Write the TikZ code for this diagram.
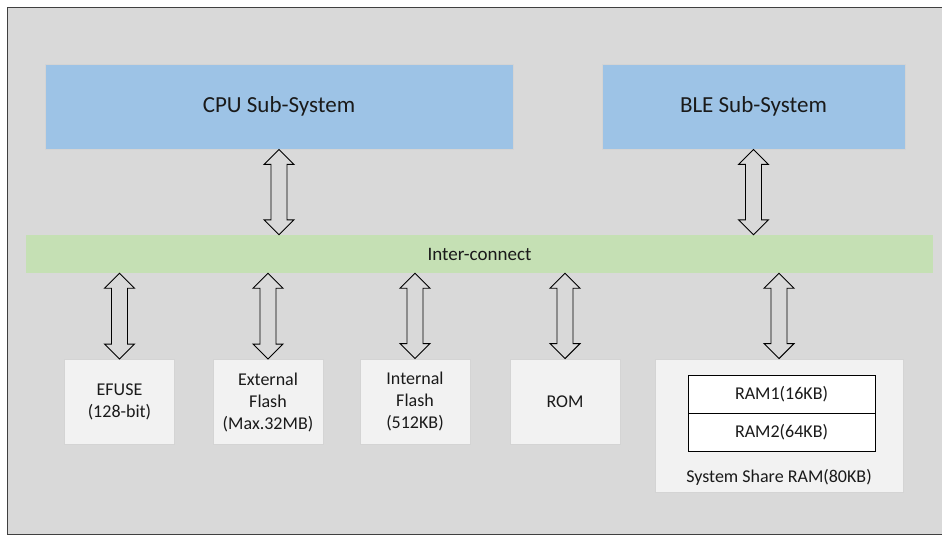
\documentclass[tikz,border=0pt]{standalone}
\usepackage{fontspec}
\setmainfont{Carlito}
\usetikzlibrary{calc}

\definecolor{panel}{HTML}{D9D9D9}
\definecolor{frameline}{HTML}{404040}
\definecolor{subsys}{HTML}{9DC3E6}
\definecolor{busgreen}{HTML}{C5E0B4}
\definecolor{memfill}{HTML}{F2F2F2}
\definecolor{memline}{HTML}{D4D4D4}
\definecolor{memshadow}{HTML}{C3CBD8}
\definecolor{ink}{HTML}{1A1A1A}

\tikzset{
  subsysbox/.style={draw=memline, line width=0.8pt, fill=subsys, minimum width=#1,
    minimum height=85, inner sep=0pt, text=ink, font=\fontsize{23}{27}\selectfont},
  busbar/.style={fill=busgreen, minimum width=907, minimum height=38, inner sep=0pt,
    text=ink, font=\fontsize{19}{23}\selectfont},
  membox/.style={draw=memline, line width=0.8pt, fill=memfill, minimum width=110,
    minimum height=85, inner sep=0pt, align=center, text=ink,
    font=\fontsize{18}{22}\selectfont,
    append after command={\pgfextra{\begin{pgfonlayer}{shadowlayer}
      \fill[memshadow] ($(\tikzlastnode.south west)+(1.5,0)$) rectangle
        ($(\tikzlastnode.south east)+(2,2.5)$);
      \end{pgfonlayer}}}},
  rambox/.style={draw=black, line width=0.8pt, fill=white, minimum width=187,
    minimum height=38, inner sep=0pt, text=ink, font=\fontsize{18}{22}\selectfont},
  busarrow/.style={draw=black, line width=0.9pt, fill=panel, line join=miter},
}

\pgfdeclarelayer{shadowlayer}
\pgfsetlayers{shadowlayer,main}

% hollow double-headed arrow between two anchors (upper end first)
\newcommand{\dblarrow}[2]{%
  \draw[busarrow] let \p1=#1, \p2=#2 in
    (\x1,\y1) -- (\x1+15pt,\y1-15pt) -- (\x1+8pt,\y1-15pt) -- (\x1+8pt,\y2+15pt)
    -- (\x1+15pt,\y2+15pt) -- (\x1,\y2) -- (\x1-15pt,\y2+15pt) -- (\x1-8pt,\y2+15pt)
    -- (\x1-8pt,\y1-15pt) -- (\x1-15pt,\y1-15pt) -- cycle;}

\begin{document}
\begin{tikzpicture}[x=1pt,y=-1pt]
  \useasboundingbox (0,0) rectangle (942,536);
  \clip (0,0) rectangle (942,536);
  \fill[white] (0,0) rectangle (942,536);

  % outer panel
  \draw[fill=panel, draw=frameline, line width=1.5pt] (7.5,7.5) rectangle (950,534.5);

  % subsystems
  \node[subsysbox=468] (cpu) at (279,106.5) {CPU Sub-System};
  \node[subsysbox=303] (ble) at (753.5,106.5) {BLE Sub-System};

  % interconnect
  \node[busbar] (bus) at (479.5,254) {Inter-connect};

  % memories
  \node[membox] (efuse) at (119.5,402) {EFUSE\\(128-bit)};
  \node[membox] (ext)   at (268,402)   {External\\Flash\\(Max.32MB)};
  \node[membox] (int)   at (415,401.5) {Internal\\Flash\\(512KB)};
  \node[membox] (rom)   at (565,401.5) {ROM};
  \node[membox, minimum width=248, minimum height=133] (ram) at (779,425.5) {};
  \node[rambox] (ram1) at (781.5,394) {RAM1(16KB)};
  \node[rambox] (ram2) at (781.5,432) {RAM2(64KB)};
  \node[text=ink, font=\fontsize{18}{22}\selectfont] (ramlabel) at (779,477)
    {System Share RAM(80KB)};

  % bus connections
  \dblarrow{(cpu.south)}{(bus.north -| cpu.south)}
  \dblarrow{(ble.south)}{(bus.north -| ble.south)}
  \dblarrow{(bus.south -| efuse.north)}{(efuse.north)}
  \dblarrow{(bus.south -| ext.north)}{(ext.north)}
  \dblarrow{(bus.south -| int.north)}{(int.north)}
  \dblarrow{(bus.south -| rom.north)}{(rom.north)}
  \dblarrow{(bus.south -| ram.north)}{(ram.north)}
\end{tikzpicture}
\end{document}
